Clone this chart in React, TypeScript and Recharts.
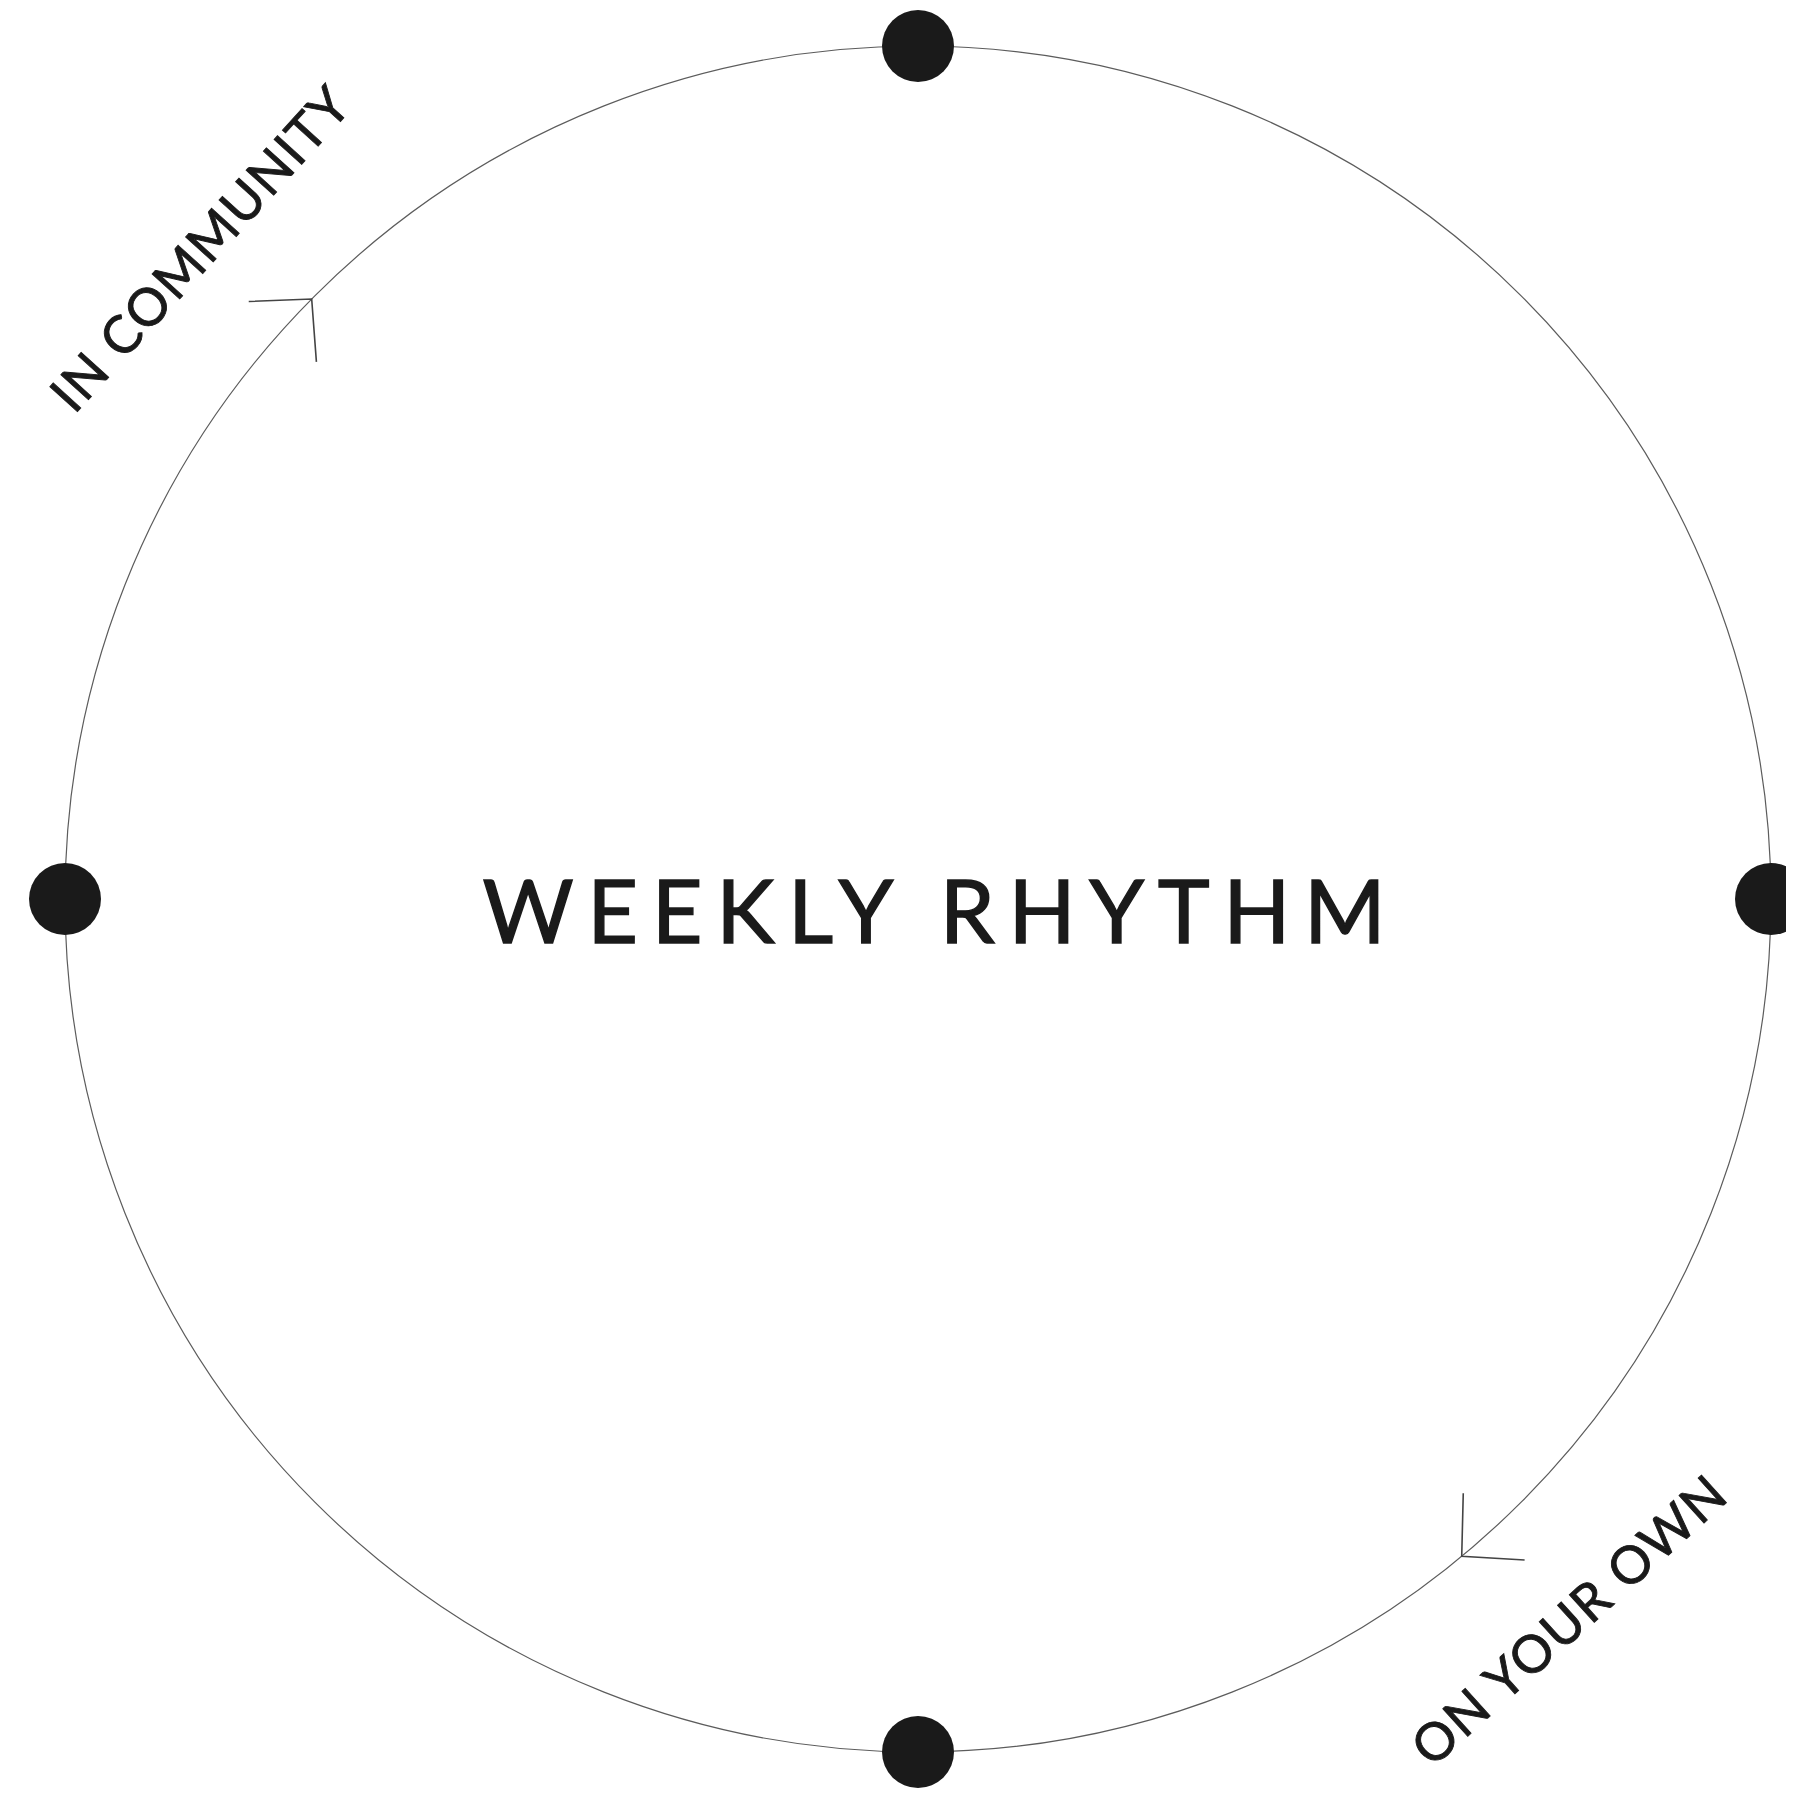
import {
  RadarChart,
  PolarGrid,
  PolarAngleAxis,
  PolarRadiusAxis,
  Radar,
  PieChart,
  Pie,
  Label,
} from "recharts";

// four markers on the loop, clockwise from the top
const markers = ["Start", "Quarter", "Midweek", "Three quarters"];
const markerValues = [1, 1, 1, 1];

// arcs of the loop (degrees, clockwise from the top) and their captions
const phaseNames = ["", "ON YOUR OWN", "", "IN COMMUNITY"];
const phaseSpans = [90, 100.8, 78.6, 90.6];

const title = "WEEKLY RHYTHM";

const W = 1794;
const H = 1795;
const CX = 910;
const CY = 891;
const R = 853;
const RAD = Math.PI / 180;
const INK = "#1a1a1a";
const FONT = "Lato, 'Liberation Sans', sans-serif";

const markerData = markers.map((m, i) => ({ marker: m, value: markerValues[i] }));
const phaseData = phaseNames.map((name, i) => ({ name, span: phaseSpans[i] }));

function renderPhase(props: any) {
  const { cx, cy, midAngle, outerRadius, index } = props;
  const name = phaseNames[index];
  if (!name) return null;
  const ux = Math.cos(-midAngle * RAD);
  const uy = Math.sin(-midAngle * RAD);
  // tip on the loop, wings pointing back against the clockwise direction
  const tx = cx + outerRadius * ux;
  const ty = cy + outerRadius * uy;
  const back = Math.atan2(-ux, uy) - 3 * RAD;
  const len = 63;
  const half = 46 * RAD;
  const w1x = tx + len * Math.cos(back + half);
  const w1y = ty + len * Math.sin(back + half);
  const w2x = tx + len * Math.cos(back - half);
  const w2y = ty + len * Math.sin(back - half);
  // caption sits a little further round, outside the loop
  const la = midAngle + 2.5;
  const lr = outerRadius + 117;
  const lx = cx + lr * Math.cos(-la * RAD);
  const ly = cy + lr * Math.sin(-la * RAD);
  const rot = Math.sin(la * RAD) > 0 ? 90 - la : 270 - la;
  return (
    <g key={`phase-${index}`}>
      <path
        d={`M${w1x},${w1y}L${tx},${ty}L${w2x},${w2y}`}
        fill="none"
        stroke="#444"
        strokeWidth={1.6}
      />
      <text
        x={lx}
        y={ly}
        transform={`rotate(${rot} ${lx} ${ly})`}
        textAnchor="middle"
        dominantBaseline="central"
        fontSize={52}
        letterSpacing={1.8}
        fill={INK}
        stroke={INK}
        strokeWidth={0.9}
        fontFamily={FONT}
      >
        {name}
      </text>
    </g>
  );
}

function renderTitle() {
  return (
    <text
      x={CX + 23}
      y={CY + 44}
      textAnchor="middle"
      fontSize={88}
      letterSpacing={13.6}
      fill={INK}
      stroke={INK}
      strokeWidth={1.4}
      fontFamily={FONT}
    >
      {title}
    </text>
  );
}

export default function App() {
  return (
    <div style={{ position: "relative", width: W, height: H, background: "#fff" }}>
      <div style={{ position: "absolute", left: 0, top: 0 }}>
        <RadarChart
          width={W}
          height={H}
          data={markerData}
          cx={CX}
          cy={CY}
          outerRadius={R}
          startAngle={90}
          endAngle={-270}
          margin={{ top: 0, right: 0, bottom: 0, left: 0 }}
        >
          <PolarGrid
            gridType="circle"
            radialLines={false}
            polarRadius={[R]}
            stroke="#5c5c5c"
            strokeWidth={1.2}
          />
          <PolarAngleAxis dataKey="marker" tick={false} axisLine={false} tickLine={false} />
          <PolarRadiusAxis domain={[0, 1]} tick={false} axisLine={false} tickLine={false} />
          <Radar
            dataKey="value"
            stroke="none"
            fill="none"
            dot={{ r: 36, fill: INK, stroke: "none" }}
            isAnimationActive={false}
          />
        </RadarChart>
      </div>
      <div style={{ position: "absolute", left: 0, top: 0 }}>
        <PieChart width={W} height={H} margin={{ top: 0, right: 0, bottom: 0, left: 0 }}>
          <Pie
            data={phaseData}
            dataKey="span"
            nameKey="name"
            cx={CX}
            cy={CY}
            innerRadius={R}
            outerRadius={R}
            startAngle={90}
            endAngle={-270}
            fill="none"
            stroke="none"
            labelLine={false}
            label={renderPhase}
            isAnimationActive={false}
          >
            <Label position="center" content={renderTitle} />
          </Pie>
        </PieChart>
      </div>
    </div>
  );
}
